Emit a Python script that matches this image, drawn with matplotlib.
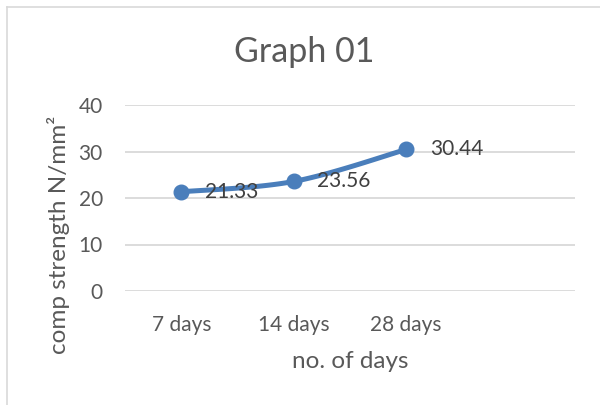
import numpy as np
import matplotlib
matplotlib.use("Agg")
import matplotlib.pyplot as plt
from matplotlib.lines import Line2D

# data
categories = ["7 days", "14 days", "28 days", ""]
strength = [21.33, 23.56, 30.44]
yticks = [0, 10, 20, 30, 40]

plt.rcParams['font.family'] = ['Lato', 'DejaVu Sans']
grey = '#595959'
blue = '#4a7ebb'


def smooth(xs, ys, n=40):
    # Catmull-Rom style smoothing, like Excel's "smoothed line"
    xs = np.asarray(xs, float)
    ys = np.asarray(ys, float)
    px = np.concatenate([[xs[0]], xs, [xs[-1]]])
    py = np.concatenate([[ys[0]], ys, [ys[-1]]])
    outx, outy = [], []
    for i in range(1, len(px) - 2):
        p0 = np.array([px[i], py[i]])
        p3 = np.array([px[i + 1], py[i + 1]])
        p1 = p0 + (np.array([px[i + 1], py[i + 1]]) - np.array([px[i - 1], py[i - 1]])) / 6
        p2 = p3 - (np.array([px[i + 2], py[i + 2]]) - np.array([px[i], py[i]])) / 6
        t = np.linspace(0, 1, n)[:, None]
        b = ((1 - t) ** 3) * p0 + 3 * ((1 - t) ** 2) * t * p1 + 3 * (1 - t) * t ** 2 * p2 + t ** 3 * p3
        outx.extend(b[:, 0])
        outy.extend(b[:, 1])
    return outx, outy


fig = plt.figure(figsize=(6, 4.05), dpi=100)
ax = fig.add_axes([125 / 600, 1 - 291 / 405, 450 / 600, 186 / 405])

x = np.arange(len(strength))
sx, sy = smooth(x, strength)
ax.plot(sx, sy, color=blue, lw=3.6, solid_capstyle='round', zorder=3)
ax.plot(x, strength, 'o', color=blue, ms=10.5, zorder=4)

for xi, v in zip(x, strength):
    ax.annotate(f"{v:.2f}", (xi, v), xytext=(17, 0), textcoords='offset points',
                ha='left', va='center', fontsize=15, color='#404040')

ax.set_xlim(-0.5, len(categories) - 0.5)
ax.set_ylim(0, 40)
ax.set_yticks(yticks)
ax.set_xticks(range(len(categories)))
ax.set_xticklabels(categories)
ax.grid(axis='y', color='#d9d9d9', lw=1.3)
ax.set_axisbelow(True)
for s in ax.spines.values():
    s.set_visible(False)
ax.tick_params(length=0, labelsize=15, colors=grey)
ax.tick_params(axis='y', pad=16)
ax.tick_params(axis='x', pad=17)

fig.text(304 / 600, 1 - 52 / 405, "Graph 01", ha='center', va='center', fontsize=24.5, color=grey)
fig.text(59 / 600, 1 - 235 / 405, "comp strength N/mm²", rotation=90, ha='center', va='center',
         fontsize=17.5, color=grey)
fig.text(350 / 600, 1 - 362 / 405, "no. of days", ha='center', va='center', fontsize=17.5, color=grey)

# chart border (left and top edges visible)
fig.add_artist(Line2D([7 / 600, 7 / 600], [0, 1 - 7 / 405], color='#d9d9d9', lw=1.2))
fig.add_artist(Line2D([7 / 600, 1], [1 - 7 / 405, 1 - 7 / 405], color='#d9d9d9', lw=1.2))

fig.savefig("out.png", dpi=100)
